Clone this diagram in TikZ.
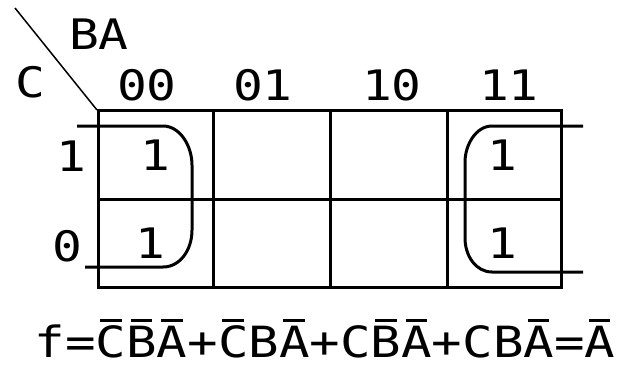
\documentclass[tikz,border=0pt]{standalone}
\usepackage{fontspec}
\setmonofont[FakeStretch=1.18]{DejaVu Sans Mono}
\newcommand{\nbar}[1]{\makebox[0pt][l]{\hspace{0.1em}\rule[0.82em]{0.5em}{0.06em}}#1}
\begin{document}
\begin{tikzpicture}[x=1pt, y=-1pt, every node/.style={font=\ttfamily\fontsize{42}{42}\selectfont, inner sep=0pt}]
  \useasboundingbox (0,0) rectangle (641,367);
  % grid
  \draw[line width=3pt] (98,110) rectangle (561,287);
  \draw[line width=3pt] (98,199) -- (561,199);
  \foreach \x in {213,330,447} {
    \draw[line width=3pt] (\x,110) -- (\x,287);
  }
  \draw[line width=1.5pt] (15,8) -- (97,110);
  % variable names
  \node (ba) at (99,34) {BA};
  \node (c) at (30,82) {C};
  % column and row labels
  \node (k00) at (147,85) {00};
  \node (k01) at (263,85) {01};
  \node (k10) at (392,85) {10};
  \node (k11) at (509,85) {11};
  \node (r1) at (71,156) {1};
  \node (r0) at (67,246) {0};
  % cells
  \node (m00) at (155,155) {1};
  \node (m10) at (150,243) {1};
  \node (m03) at (502,155) {1};
  \node (m13) at (502,243) {1};
  % groups
  \draw[line width=3pt] (77,126) -- (163,126) .. controls (180,126) and (192,146) .. (192,165)
    -- (192,230) .. controls (192,250) and (180,267) .. (163,267) -- (85,267);
  \draw[line width=3pt] (583,126) -- (492,126) .. controls (476,126) and (465,145) .. (465,162)
    -- (465,238) .. controls (465,256) and (476,272) .. (492,272) -- (583,272);
  % result
  \node[font=\ttfamily\fontsize{43}{43}\selectfont, anchor=base, text depth=0pt] (f) at (325,357)
    {f=\nbar{C}\nbar{B}\nbar{A}+\nbar{C}B\nbar{A}+C\nbar{B}\nbar{A}+CB\nbar{A}=\nbar{A}};
\end{tikzpicture}
\end{document}
